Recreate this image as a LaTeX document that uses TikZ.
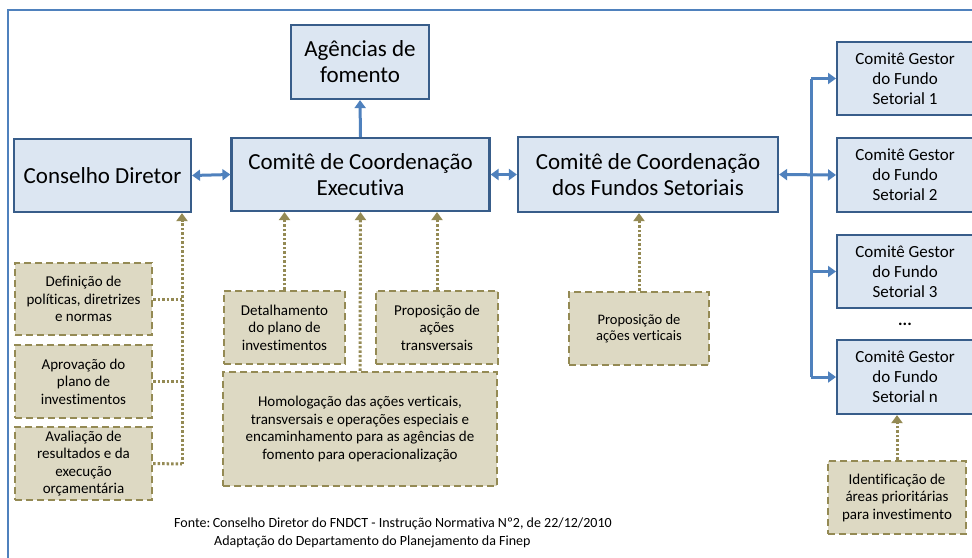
\documentclass[tikz,border=0pt]{standalone}
\usepackage{fontspec}
\setmainfont{Carlito}[Ligatures=NoCommon]
\usetikzlibrary{arrows.meta}
\definecolor{boxfill}{HTML}{DCE6F2}
\definecolor{boxdraw}{HTML}{385D8A}
\definecolor{arrowblue}{HTML}{4F81BD}
\definecolor{tanfill}{HTML}{DDD9C3}
\definecolor{tandraw}{HTML}{948A54}
\begin{document}
\begin{tikzpicture}[x=1pt,y=-1pt,
  bluebox/.style={draw=boxdraw, fill=boxfill, line width=2.2pt, align=center, inner sep=0pt},
  bigtext/.style={font=\fontsize{23}{26}\selectfont},
  midtext/.style={font=\fontsize{17}{20}\selectfont},
  tanbox/.style={draw=tandraw, fill=tanfill, line width=2.4pt, dash pattern=on 7pt off 4pt, align=center, inner sep=0pt, font=\fontsize{15}{17.5}\selectfont},
  bluearrow/.style={draw=arrowblue, line width=3pt},
  btip/.style={-{Triangle[width=11pt,length=8pt]}},
  bboth/.style={{Triangle[width=11pt,length=8pt]}-{Triangle[width=11pt,length=8pt]}},
  tanarrow/.style={draw=tandraw, line width=3pt, dash pattern=on 2.5pt off 2pt},
  ttip/.style={-{Triangle[width=11pt,length=8pt]}},
  foot/.style={font=\fontsize{14}{16}\selectfont, inner sep=0pt, anchor=west}
]
\useasboundingbox (0,0) rectangle (972,557);
\fill[white] (0,0) rectangle (972,557);
% frame
\draw[arrowblue, line width=1.6pt] (8,560) -- (8,10) -- (976,10);

% blue boxes
\node[bluebox, bigtext, minimum width=177pt, minimum height=73pt] (cd) at (102.5,175.5) {Conselho Diretor};
\node[bluebox, bigtext, minimum width=258pt, minimum height=73pt] (cce) at (360.5,174.5) {Comitê de Coordenação\\Executiva};
\node[bluebox, bigtext, minimum width=138pt, minimum height=74pt] (ag) at (360,62) {Agências de\\fomento};
\node[bluebox, bigtext, minimum width=260pt, minimum height=75pt] (ccfs) at (648,174.5) {Comitê de Coordenação\\dos Fundos Setoriais};

\node[bluebox, midtext, minimum width=136pt, minimum height=73pt, anchor=west] (g1) at (836,78.5) {Comitê Gestor\\do Fundo\\Setorial 1};
\node[bluebox, midtext, minimum width=136pt, minimum height=74pt, anchor=west] (g2) at (836,175) {Comitê Gestor\\do Fundo\\Setorial 2};
\node[bluebox, midtext, minimum width=136pt, minimum height=73pt, anchor=west] (g3) at (836,271.5) {Comitê Gestor\\do Fundo\\Setorial 3};
\node[bluebox, midtext, minimum width=136pt, minimum height=74pt, anchor=west] (gn) at (836,377) {Comitê Gestor\\do Fundo\\Setorial n};
\node[font=\fontsize{17}{18}\selectfont\bfseries, inner sep=0pt] (dots) at (905,324) {...};

% tan boxes
\node[tanbox, minimum width=137pt, minimum height=72pt] (def) at (83.5,299) {Definição de\\políticas, diretrizes\\e normas};
\node[tanbox, minimum width=137pt, minimum height=73pt] (apr) at (83.5,381.5) {Aprovação do\\plano de\\investimentos};
\node[tanbox, minimum width=137pt, minimum height=73pt] (ava) at (83.5,463.5) {Avaliação de\\resultados e da\\execução\\orçamentária};
\node[tanbox, minimum width=121pt, minimum height=73pt] (det) at (284.5,327.5) {Detalhamento\\do plano de\\investimentos};
\node[tanbox, minimum width=122pt, minimum height=73pt] (ptr) at (437,327.5) {Proposição de\\ações\\transversais};
\node[tanbox, minimum width=274pt, minimum height=114pt] (hom) at (360,429) {Homologação das ações verticais,\\transversais e operações especiais e\\encaminhamento para as agências de\\fomento para operacionalização};
\node[tanbox, font=\fontsize{14.5}{16.5}\selectfont, minimum width=140pt, minimum height=73pt] (pve) at (639,328.5) {Proposição de\\ações verticais};
\node[tanbox, minimum width=138pt, minimum height=73pt] (ide) at (897,497.5) {Identificação de\\áreas prioritárias\\para investimento};

% blue connectors
\draw[bluearrow, btip] (cce.north) -- (ag.south);
\draw[bluearrow, bboth] (cd.east) -- (cce.west);
\draw[bluearrow, bboth] (cce.east) -- (ccfs.east -| ccfs.west);
\coordinate (b1) at (811,78.5);
\coordinate (b2) at (811,175);
\coordinate (b3) at (811,271.5);
\coordinate (bn) at (811,377);
\draw[bluearrow, line join=round] (b1) -- (bn);
\draw[bluearrow, bboth] (ccfs.east) -- (g2.west);
\draw[bluearrow, btip] (b1) -- (g1.west);
\draw[bluearrow, btip] (b3) -- (g3.west);
\draw[bluearrow, btip] (bn) -- (gn.west);

% tan connectors
\coordinate (vl) at (182,464);
\coordinate (vd) at (182,299);
\coordinate (va) at (182,381.5);
\draw[tanarrow] (def.east) -- (vd);
\draw[tanarrow] (apr.east) -- (va);
\draw[tanarrow] (ava.east) -- (vl);
\draw[tanarrow, ttip] (vl) -- (vl |- cd.south);
\draw[tanarrow, ttip] (det.north) -- (det.north |- cce.south);
\draw[tanarrow, ttip] (ptr.north) -- (ptr.north |- cce.south);
\draw[tanarrow, ttip] (hom.north) -- (cce.south);
\draw[tanarrow, ttip] (pve.north) -- (pve.north |- ccfs.south);
\draw[tanarrow, ttip] (ide.north) -- (ide.north |- gn.south);

% footer
\node[foot] (f1) at (174,524) {Fonte:\kern2.5pt Conselho Diretor do FNDCT - Instrução Normativa Nº2, de 22/12/2010};
\node[foot] (f2) at (214,542) {Adaptação do Departamento do Planejamento da Finep};
\end{tikzpicture}
\end{document}
